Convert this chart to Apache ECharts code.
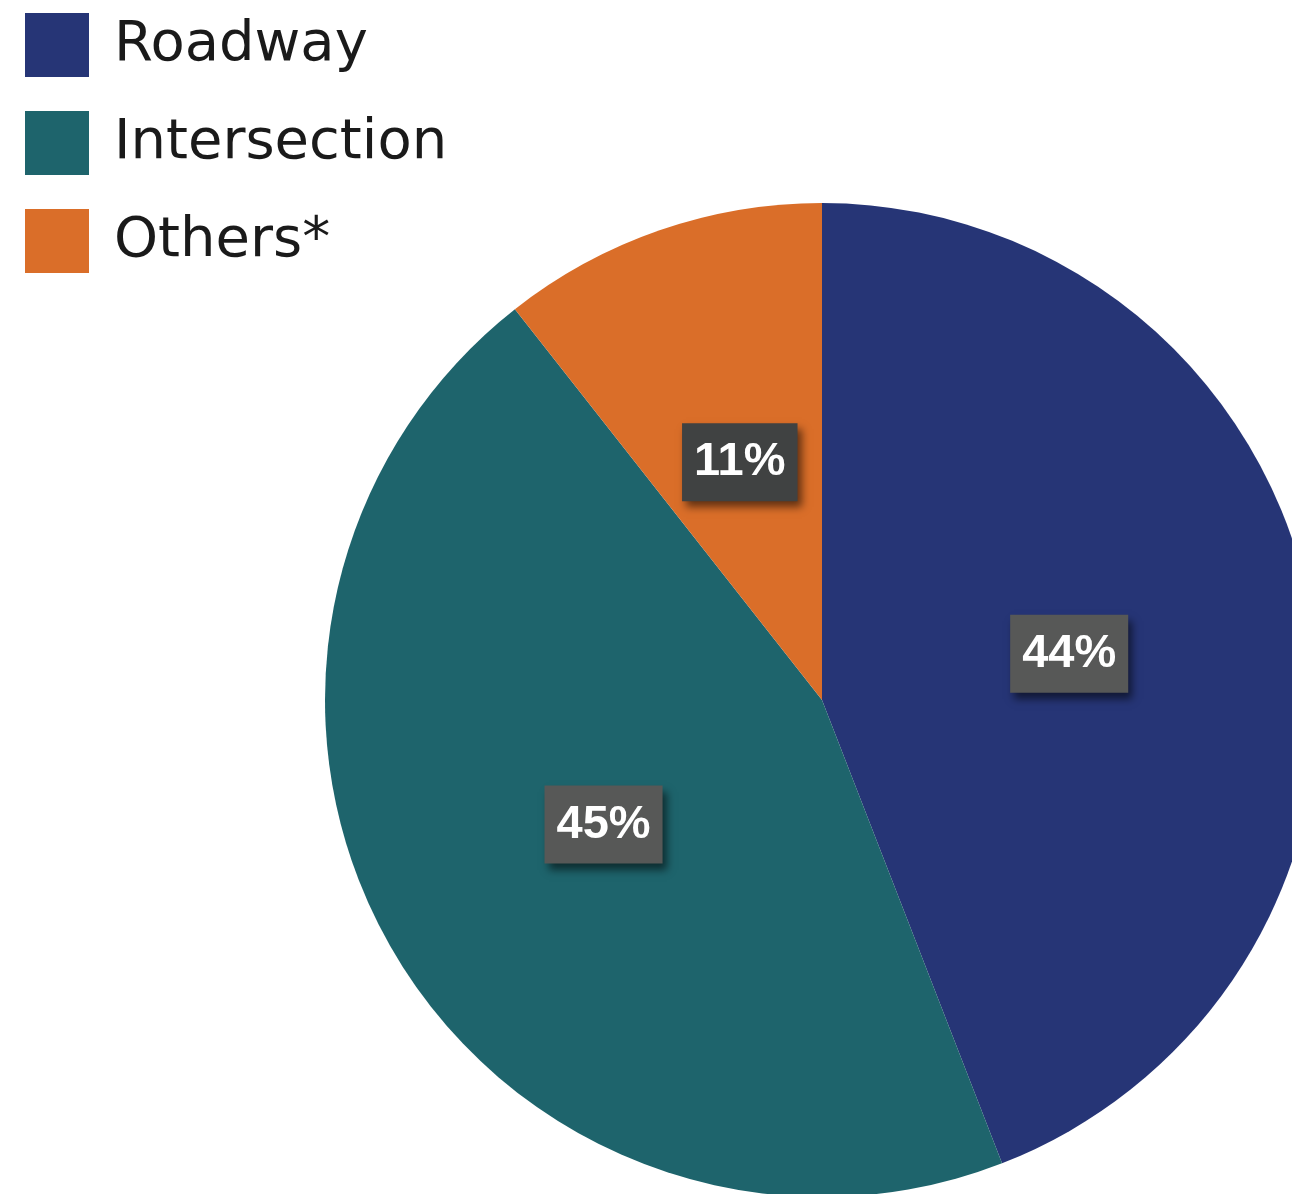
<!DOCTYPE html>
<html>
<head>
<meta charset="utf-8">
<script src="https://cdn.jsdelivr.net/npm/echarts@6/dist/echarts.min.js"></script>
<style>
html,body{margin:0;padding:0;background:#fff;}
#chart{width:1292px;height:1194px;}
</style>
</head>
<body>
<div id="chart"></div>
<script>
const categories = ['Roadway', 'Intersection', 'Others*'];
const values = [44.1, 45.3, 10.6];
const colors = ['#263576', '#1e646c', '#da6e29'];
const labelBg = ['#575857', '#575857', '#404242'];

const chart = echarts.init(document.getElementById('chart'), null, {renderer: 'canvas'});
chart.setOption({
  animation: false,
  backgroundColor: '#ffffff',
  legend: {
    orient: 'vertical',
    left: 25,
    top: 10,
    padding: 0,
    itemWidth: 64,
    itemHeight: 64,
    itemGap: 28,
    icon: 'rect',
    selectedMode: false,
    textStyle: {
      fontFamily: 'DejaVu Sans',
      fontSize: 56,
      color: '#1a1a1a',
      lineHeight: 64,
      padding: [6, 0, 0, 20]
    },
    data: categories
  },
  series: [{
    type: 'pie',
    center: [822, 700],
    radius: 497,
    startAngle: 90,
    clockwise: true,
    avoidLabelOverlap: false,
    emphasis: {disabled: true},
    itemStyle: {borderWidth: 0},
    label: {
      show: true,
      position: 'inside',
      formatter: p => Math.round(p.value) + '%',
      fontFamily: 'Liberation Sans',
      fontWeight: 'bold',
      fontSize: 47,
      lineHeight: 46,
      color: '#ffffff',
      padding: [16, 12],
      shadowColor: 'rgba(0,0,0,0.55)',
      shadowBlur: 8,
      shadowOffsetX: 4,
      shadowOffsetY: 6
    },
    labelLine: {show: false},
    data: categories.map((name, i) => ({
      name: name,
      value: values[i],
      itemStyle: {color: colors[i]},
      label: {backgroundColor: labelBg[i]}
    }))
  }]
});
</script>
</body>
</html>
